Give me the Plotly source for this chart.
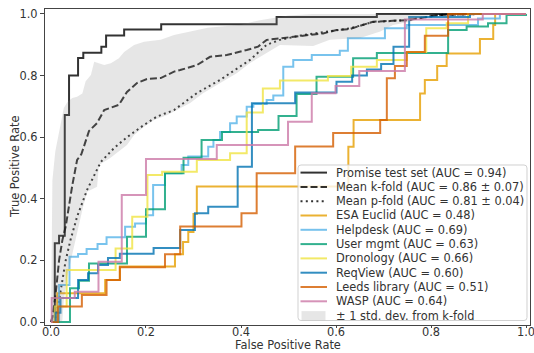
import plotly.graph_objects as go

# ---------------- data ----------------
promise_fpr = [0, 0.008, 0.017, 0.029, 0.038, 0.057, 0.068, 0.106, 0.116, 0.154, 0.232, 0.475, 0.686, 1.0]
promise_tpr = [0, 0.256, 0.28, 0.672, 0.80, 0.857, 0.874, 0.894, 0.93, 0.95, 0.967, 0.99, 1.0, 1.0]

mean_k_fpr = [0, 0.003, 0.010, 0.017, 0.024, 0.031, 0.045, 0.055, 0.064, 0.08, 0.097, 0.112, 0.143, 0.16,
              0.181, 0.202, 0.231, 0.259, 0.272, 0.307, 0.335, 0.37, 0.412, 0.436, 0.454, 0.496, 0.531,
              0.573, 0.601, 0.629, 0.678, 0.749, 0.819, 0.903, 1.0]
mean_k_tpr = [0, 0.017, 0.094, 0.20, 0.266, 0.31, 0.445, 0.526, 0.545, 0.62, 0.646, 0.688, 0.705, 0.747,
              0.776, 0.789, 0.792, 0.813, 0.818, 0.834, 0.861, 0.867, 0.883, 0.894, 0.916, 0.923, 0.93,
              0.937, 0.948, 0.951, 0.975, 0.98, 0.997, 1.0, 1.0]

mean_p_fpr = [0, 0.010, 0.017, 0.024, 0.031, 0.041, 0.055, 0.076, 0.105, 0.133, 0.16, 0.196, 0.223, 0.259,
              0.307, 0.356, 0.387, 0.419, 0.454, 0.482, 0.531, 0.573, 0.629, 0.678, 0.749, 0.819, 0.903, 1.0]
mean_p_tpr = [0, 0.017, 0.071, 0.136, 0.20, 0.266, 0.342, 0.429, 0.52, 0.565, 0.60, 0.64, 0.667, 0.688,
              0.743, 0.786, 0.818, 0.851, 0.90, 0.916, 0.932, 0.942, 0.953, 0.974, 0.98, 0.997, 1.0, 1.0]

std_up_fpr = [0, 0.003, 0.009, 0.027, 0.035, 0.045, 0.055, 0.066, 0.073, 0.084, 0.091, 0.101, 0.112, 0.126,
              0.143, 0.154, 0.175, 0.196, 0.231, 0.259, 0.33, 0.40, 0.44, 0.50, 0.55, 1.0]
std_up_tpr = [0, 0.46, 0.553, 0.695, 0.715, 0.727, 0.731, 0.742, 0.782, 0.802, 0.845, 0.84, 0.834, 0.84,
              0.856, 0.877, 0.899, 0.91, 0.916, 0.932, 0.955, 0.965, 0.98, 0.995, 1.0, 1.0]
std_lo_fpr = [0, 0.022, 0.024, 0.027, 0.034, 0.045, 0.055, 0.066, 0.076, 0.097, 0.101, 0.124, 0.16, 0.175,
              0.196, 0.217, 0.245, 0.259, 0.293, 0.32, 0.356, 0.391, 0.419, 0.461, 0.482, 0.552, 0.587,
              0.651, 0.693, 0.72, 0.756, 0.804, 1.0]
std_lo_tpr = [0, 0, 0.006, 0.071, 0.147, 0.224, 0.289, 0.364, 0.423, 0.439, 0.51, 0.532, 0.575, 0.607,
              0.634, 0.656, 0.672, 0.683, 0.711, 0.743, 0.776, 0.808, 0.841, 0.88, 0.899, 0.896, 0.916,
              0.922, 0.943, 0.964, 0.975, 1.0, 1.0]

esa_fpr = [0, 0.013, 0.114, 0.145, 0.261, 0.278, 0.289, 0.300, 0.307, 0.626, 0.637, 0.777, 0.787, 0.813,
           0.833, 0.903, 0.931, 0.935, 1.0]
esa_tpr = [0, 0.093, 0.136, 0.18, 0.22, 0.26, 0.292, 0.351, 0.44, 0.569, 0.656, 0.742, 0.786, 0.831,
           0.872, 0.919, 0.964, 1.0, 1.0]

helpdesk_fpr = [0, 0.017, 0.039, 0.057, 0.075, 0.098, 0.117, 0.156, 0.177, 0.2, 0.215, 0.24, 0.275, 0.289,
                0.331, 0.342, 0.356, 0.377, 0.391, 0.412, 0.426, 0.454, 0.468, 0.489, 0.51, 0.549, 0.608,
                0.625, 0.703, 0.749, 0.899, 0.945, 1.0]
helpdesk_tpr = [0, 0.12, 0.212, 0.221, 0.237, 0.253, 0.275, 0.309, 0.32, 0.347, 0.445, 0.483, 0.51, 0.537,
                0.569, 0.591, 0.617, 0.645, 0.667, 0.699, 0.708, 0.721, 0.735, 0.829, 0.851, 0.867, 0.881,
                0.921, 0.954, 0.964, 0.985, 1.0, 1.0]

usermgmt_fpr = [0, 0.04, 0.059, 0.08, 0.16, 0.2, 0.24, 0.279, 0.317, 0.36, 0.436, 0.479, 0.517, 0.559,
                0.636, 0.686, 0.836, 0.875, 0.92, 0.959, 1.0]
usermgmt_tpr = [0, 0.11, 0.134, 0.19, 0.277, 0.366, 0.483, 0.533, 0.591, 0.617, 0.623, 0.669, 0.74, 0.796,
                0.856, 0.873, 0.948, 0.959, 0.97, 0.997, 1.0]

dronology_fpr = [0, 0.008, 0.033, 0.136, 0.171, 0.203, 0.234, 0.307, 0.377, 0.412, 0.446, 0.482, 0.583,
                 0.632, 0.686, 0.749, 0.79, 0.833, 0.878, 1.0]
dronology_tpr = [0, 0.05, 0.169, 0.239, 0.342, 0.477, 0.488, 0.526, 0.548, 0.68, 0.758, 0.784, 0.799,
                 0.829, 0.851, 0.877, 0.954, 0.97, 1.0, 1.0]

reqview_fpr = [0, 0.01, 0.02, 0.057, 0.078, 0.099, 0.12, 0.145, 0.216, 0.272, 0.303, 0.331, 0.393, 0.423,
               0.514, 0.601, 0.634, 0.665, 0.695, 0.721, 0.754, 0.882, 1.0]
reqview_tpr = [0, 0.03, 0.078, 0.136, 0.158, 0.185, 0.208, 0.222, 0.24, 0.299, 0.353, 0.374, 0.504, 0.71,
               0.745, 0.78, 0.80, 0.82, 0.838, 0.894, 0.99, 1.0, 1.0]

leeds_fpr = [0, 0.015, 0.065, 0.117, 0.145, 0.24, 0.272, 0.401, 0.433, 0.514, 0.594, 0.693, 0.707, 0.724,
             0.749, 0.787, 0.836, 1.0]
leeds_tpr = [0, 0.05, 0.088, 0.136, 0.178, 0.22, 0.31, 0.353, 0.483, 0.57, 0.614, 0.656, 0.791, 0.831,
             0.877, 0.929, 1.0, 1.0]

wasp_fpr = [0, 0.0015, 0.05, 0.10, 0.149, 0.20, 0.349, 0.499, 0.549, 0.599, 0.649, 0.745, 0.909, 1.0]
wasp_tpr = [0, 0.078, 0.098, 0.196, 0.412, 0.529, 0.575, 0.65, 0.743, 0.766, 0.815, 0.982, 1.0, 1.0]

legend_labels = [
    "Promise test set (AUC = 0.94)",
    "Mean k-fold (AUC = 0.86 ± 0.07)",
    "Mean p-fold (AUC = 0.81 ± 0.04)",
    "ESA Euclid (AUC = 0.48)",
    "Helpdesk (AUC = 0.69)",
    "User mgmt (AUC = 0.63)",
    "Dronology (AUC = 0.66)",
    "ReqView (AUC = 0.60)",
    "Leeds library (AUC = 0.51)",
    "WASP (AUC = 0.64)",
    "± 1 std. dev. from k-fold",
]
tick_vals = [0.0, 0.2, 0.4, 0.6, 0.8, 1.0]
tick_text = ["0.0", "0.2", "0.4", "0.6", "0.8", "1.0"]

# ---------------- style ----------------
W, H = 534, 353
PL, PR, PT, PB = 45, 530, 9, 325   # plot area in pixels
BLACK = "#000000"
COLORS = ["#E69F00", "#56B4E9", "#009E73", "#F0E442", "#0072B2", "#D55E00", "#CC79A7"]
DASH_K = "7px,3px"
DOT_P = "2px,3.3px"
TXT = "#333333"
FONT = "DejaVu Sans"
FS = 11.4


def px_x(px):
    return (px - PL) / (PR - PL)


def px_y(py):
    return (PB - py) / (PB - PT)


fig = go.Figure()


def add_line(x, y, color, dash="solid", shape="hv"):
    fig.add_trace(go.Scatter(x=x, y=y, mode="lines",
                             line=dict(color=color, width=2, dash=dash, shape=shape),
                             opacity=0.8, showlegend=False, hoverinfo="skip"))


add_line(promise_fpr, promise_tpr, BLACK)
add_line(mean_k_fpr, mean_k_tpr, BLACK, DASH_K, "linear")
add_line(mean_p_fpr, mean_p_tpr, BLACK, DOT_P, "linear")
projects = [(esa_fpr, esa_tpr), (helpdesk_fpr, helpdesk_tpr), (usermgmt_fpr, usermgmt_tpr),
            (dronology_fpr, dronology_tpr), (reqview_fpr, reqview_tpr), (leeds_fpr, leeds_tpr),
            (wasp_fpr, wasp_tpr)]
for (fx, fy), c in zip(projects, COLORS):
    add_line(fx, fy, c)

band_x = std_up_fpr + std_lo_fpr[::-1]
band_y = std_up_tpr + std_lo_tpr[::-1]
fig.add_trace(go.Scatter(x=band_x, y=band_y, mode="lines", fill="toself",
                         fillcolor="rgba(128,128,128,0.2)", line=dict(width=0),
                         showlegend=False, hoverinfo="skip"))

# ---------------- legend (drawn by hand to match matplotlib spacing) ----------------
shapes = []
annotations = []
lx0, ly0, lx1, ly1, r = 298, 165, 527, 320.5, 3


def P(px, py):
    return f"{px_x(px):.5f},{px_y(py):.5f}"


path = (f"M {P(lx0 + r, ly0)} L {P(lx1 - r, ly0)} Q {P(lx1, ly0)} {P(lx1, ly0 + r)} "
        f"L {P(lx1, ly1 - r)} Q {P(lx1, ly1)} {P(lx1 - r, ly1)} L {P(lx0 + r, ly1)} "
        f"Q {P(lx0, ly1)} {P(lx0, ly1 - r)} L {P(lx0, ly0 + r)} Q {P(lx0, ly0)} {P(lx0 + r, ly0)} Z")
shapes.append(dict(type="path", xref="paper", yref="paper", path=path,
                   fillcolor="rgba(255,255,255,0.8)", line=dict(color="rgba(204,204,204,0.9)", width=1)))

row0, dy = 172.6, 14.3
handle_styles = [(BLACK, "solid"), (BLACK, DASH_K), (BLACK, DOT_P)] + [(c, "solid") for c in COLORS]
for i, lab in enumerate(legend_labels):
    yy = row0 + i * dy
    if i < len(handle_styles):
        c, d = handle_styles[i]
        shapes.append(dict(type="line", xref="paper", yref="paper",
                           x0=px_x(300.5), x1=px_x(327), y0=px_y(yy), y1=px_y(yy),
                           line=dict(color=c, width=2, dash=d), opacity=0.8))
    else:
        shapes.append(dict(type="rect", xref="paper", yref="paper",
                           x0=px_x(301.5), x1=px_x(325.5), y0=px_y(yy - 4.5), y1=px_y(yy + 4.5),
                           fillcolor="rgba(128,128,128,0.2)", line=dict(width=0)))
    annotations.append(dict(text=lab, xref="paper", yref="paper", x=px_x(335), y=px_y(yy),
                            xanchor="left", yanchor="middle", showarrow=False, borderpad=0,
                            font=dict(family=FONT, size=FS, color=TXT)))

# x tick labels placed explicitly (matplotlib-like spacing under the axis)
for v, t in zip(tick_vals, tick_text):
    annotations.append(dict(text=t, xref="x", yref="paper", x=v, y=px_y(331.6),
                            xanchor="center", yanchor="middle", showarrow=False, borderpad=0,
                            font=dict(family=FONT, size=FS, color=TXT)))

annotations.append(dict(text="False Positive Rate", xref="paper", yref="paper",
                        x=px_x((PL + PR) / 2), y=px_y(345.5), xanchor="center", yanchor="middle",
                        showarrow=False, borderpad=0, font=dict(family=FONT, size=FS, color=TXT)))
annotations.append(dict(text="True Positive Rate", xref="paper", yref="paper",
                        x=px_x(15), y=px_y((PT + PB) / 2), xanchor="center", yanchor="middle",
                        textangle=-90, showarrow=False, borderpad=0,
                        font=dict(family=FONT, size=FS, color=TXT)))

axis_common = dict(tickvals=tick_vals, ticktext=tick_text, ticks="outside", tickwidth=1,
                   tickcolor="#444444", showline=True, linecolor="#444444", linewidth=1.2, mirror=True,
                   showgrid=False, zeroline=False, tickfont=dict(family=FONT, size=FS, color=TXT))

fig.update_layout(
    width=W, height=H,
    margin=dict(l=PL, r=W - PR, t=PT, b=H - PB, pad=0),
    paper_bgcolor="white", plot_bgcolor="white",
    xaxis=dict(range=[-0.0126, 1.0084], showticklabels=False, ticklen=2, **axis_common),
    yaxis=dict(range=[-0.0097, 1.0162], ticklen=4, **axis_common),
    shapes=shapes, annotations=annotations,
    font=dict(family=FONT, size=FS, color=TXT),
    showlegend=False,
)

fig.write_html("out.html",
               config={"displayModeBar": False, "staticPlot": True},
               post_script="document.body.style.margin='0';document.body.style.padding='0';"
                           "document.body.style.overflow='hidden';")
